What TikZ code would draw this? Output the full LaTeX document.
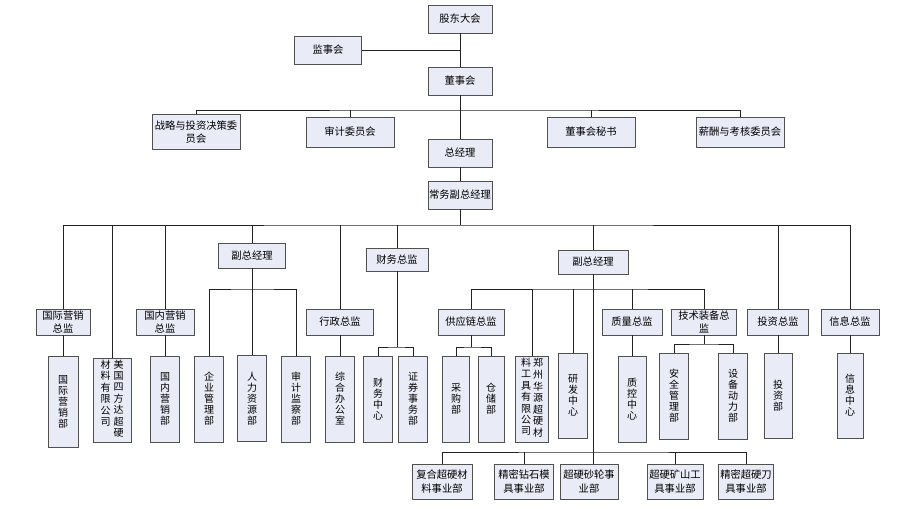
\documentclass[tikz,border=0pt]{standalone}
\usepackage{fontspec}
\newfontfamily\cjk{Noto Sans CJK SC}
\usepackage{tikz}
\usetikzlibrary{positioning,shadows,calc}
\definecolor{boxfill}{RGB}{233,235,247}
\definecolor{boxline}{RGB}{80,80,80}
\definecolor{linkline}{RGB}{35,35,35}
\newcommand{\vcol}[1]{\begin{tabular}[t]{@{}c@{}}#1\end{tabular}}

\begin{document}
\begin{tikzpicture}[x=1pt, y=-1pt,
    font=\cjk\fontsize{10.3}{13}\selectfont,
    box/.style={draw=boxline, line width=0.8pt, fill=boxfill, inner sep=0pt, align=center,
                drop shadow={shadow xshift=0.7pt, shadow yshift=-0.7pt, fill=black!60, opacity=1}},
    topbox/.style={box, minimum width=64pt, minimum height=28pt},
    combox/.style={box, minimum width=88pt, minimum height=30pt},
    midbox/.style={box, minimum height=26pt},
    deptbox/.style={box, minimum width=29pt, minimum height=86pt,
                    font=\cjk\fontsize{10}{11}\selectfont},
    unitbox/.style={box, minimum width=58pt, minimum height=35pt,
                    font=\cjk\fontsize{10.3}{14.5}\selectfont},
    link/.style={draw=linkline, line width=0.85pt},
  ]
    \useasboundingbox (0,0) rectangle (922,509);

    % Board level -----------------------------------------------------
    \node[topbox] (gd)  at (460,19)  {股东大会};
    \node[topbox, minimum width=67pt] (jsh) at (328,50) {监事会};
    \node[topbox] (dsh) at (460,81)  {董事会};
    \node[combox, minimum height=35pt] (zl) at (196,132) {战略与投资决策委\\员会};
    \node[combox] (sj)  at (350,132) {审计委员会};
    \node[topbox] (zjl) at (460,153) {总经理};
    \node[combox] (ms)  at (591,132) {董事会秘书};
    \node[combox] (xc)  at (740,132) {薪酬与考核委员会};
    \node[topbox] (cw)  at (460,195) {常务副总经理};

    \coordinate (busA) at (460,110);
    \draw[link] (gd) -- (dsh);
    \draw[link] (jsh.east) -- (jsh.east -| gd.south);
    \draw[link] (dsh) -- (zjl);
    \draw[link] (zl.north) |- (busA) -| (xc.north);
    \foreach \n in {sj,ms}
        \draw[link] (\n.north) -- (\n.north |- busA);
    \draw[link] (zjl) -- (cw);

    % Vice managers and directors --------------------------------------
    \node[midbox, minimum width=67pt, minimum height=25pt] (fza)  at (252,255.5) {副总经理};
    \node[midbox, minimum width=62pt, minimum height=23pt] (cwzj) at (397,259.5) {财务总监};
    \node[midbox, minimum width=70pt, minimum height=24pt] (fzb)  at (593,262) {副总经理};

    \node[midbox, minimum width=54pt] (gjzj)  at (63,322)  {国际营销\\总监};
    \node[midbox, minimum width=58pt] (gnzj)  at (165,322) {国内营销\\总监};
    \node[midbox, minimum width=67pt] (xzzj)  at (340,322) {行政总监};
    \node[midbox, minimum width=66pt] (gylzj) at (471,322) {供应链总监};
    \node[midbox, minimum width=60pt] (zlzj)  at (632,322) {质量总监};
    \node[midbox, minimum width=65pt] (jszj)  at (704,322) {技术装备总\\监};
    \node[midbox, minimum width=61pt] (tzzj)  at (778,322) {投资总监};
    \node[midbox, minimum width=58pt] (xxzj)  at (850,322) {信息总监};

    % Departments -----------------------------------------------------
    \node[deptbox, minimum width=30pt, minimum height=91pt] (gjb) at (63,401.5) {国\\际\\营\\销\\部};
    \node[deptbox, minimum width=38pt, minimum height=84pt] (mgsf) at (112,400)
        {\vcol{材\\料\\有\\限\\公\\司}\hspace{3pt}\vcol{美\\国\\四\\方\\达\\超\\硬}};
    \node[deptbox] (gnb)  at (165,399) {国\\内\\营\\销\\部};
    \node[deptbox] (qyb)  at (209,399) {企\\业\\管\\理\\部};
    \node[deptbox] (rlb)  at (252,398.5) {人\\力\\资\\源\\部};
    \node[deptbox] (sjjc) at (296,399) {审\\计\\监\\察\\部};
    \node[deptbox] (zhb)  at (340,399) {综\\合\\办\\公\\室};
    \node[deptbox] (cwzx) at (378,399) {财\\务\\中\\心};
    \node[deptbox] (zqb)  at (413,399) {证\\券\\事\\务\\部};
    \node[deptbox, minimum width=27pt] (cgb) at (456,399) {采\\购\\部};
    \node[deptbox, minimum width=26pt] (ccb) at (491,399) {仓\\储\\部};
    \node[deptbox, minimum width=33pt] (zzhy) at (532,399)
        {\vcol{料\\工\\具\\有\\限\\公\\司}\hspace{2pt}\vcol{郑\\州\\华\\源\\超\\硬\\材}};
    \node[deptbox, minimum height=85pt] (yfzx) at (573,395.5) {研\\发\\中\\心};
    \node[deptbox, minimum width=28pt] (zkzx) at (632,399) {质\\控\\中\\心};
    \node[deptbox] (aqb)  at (674,396) {安\\全\\管\\理\\部};
    \node[deptbox] (sbb)  at (733,396) {设\\备\\动\\力\\部};
    \node[deptbox, minimum width=28pt, minimum height=85pt] (tzb)  at (778,395.5) {投\\资\\部};
    \node[deptbox, minimum width=26pt, minimum height=85pt] (xxzx) at (850,395.5) {信\\息\\中\\心};

    % Business units --------------------------------------------------
    \node[unitbox, minimum width=60pt] (fhcy) at (442,481.5) {复合超硬材\\料事业部};
    \node[unitbox, minimum width=59pt] (jmzs) at (524,481.5) {精密钻石模\\具事业部};
    \node[unitbox] (cysl) at (589,481.5) {超硬砂轮事\\业部};
    \node[unitbox, minimum width=56pt] (cyks) at (675,481.5) {超硬矿山工\\具事业部};
    \node[unitbox, minimum width=55pt] (jmcy) at (746,481.5) {精密超硬刀\\具事业部};

    % Connectors ------------------------------------------------------
    \coordinate (busB) at (460,225);
    \coordinate (busC) at (252,289);
    \coordinate (busD) at (397,347);
    \coordinate (busE) at (593,289);
    \coordinate (busF) at (471,347);
    \coordinate (busG) at (704,344);
    \coordinate (busH) at (593,452);

    \draw[link] (cw.south) -- (busB);
    \draw[link] (gjzj.north) |- (busB) -| (xxzj.north);
    \foreach \n in {mgsf,gnzj,fza,xzzj,cwzj,fzb,tzzj}
        \draw[link] (\n.north) -- (\n.north |- busB);
    \foreach \a/\b in {gjzj/gjb,gnzj/gnb,xzzj/zhb,zlzj/zkzx,tzzj/tzb,xxzj/xxzx}
        \draw[link] (\a.south) -- (\a.south |- \b.north);

    \draw[link] (fza.south) -- (rlb.north);
    \draw[link] (qyb.north) |- (busC) -| (sjjc.north);
    \draw[link] (cwzj.south) -- (busD);
    \draw[link] (cwzx.north) |- (busD) -| (zqb.north);

    \draw[link] (fzb.south) -- (fzb.south |- cysl.north);
    \draw[link] (gylzj.north) |- (busE) -| (jszj.north);
    \foreach \n in {zzhy,yfzx,zlzj}
        \draw[link] (\n.north) -- (\n.north |- busE);
    \draw[link] (gylzj.south) -- (busF);
    \draw[link] (cgb.north) |- (busF) -| (ccb.north);
    \draw[link] (jszj.south) -- (busG);
    \draw[link] (aqb.north) |- (busG) -| (sbb.north);

    \draw[link] (fhcy.north) |- (busH) -| (jmcy.north);
    \foreach \n in {jmzs,cyks}
        \draw[link] (\n.north) -- (\n.north |- busH);
\end{tikzpicture}
\end{document}
